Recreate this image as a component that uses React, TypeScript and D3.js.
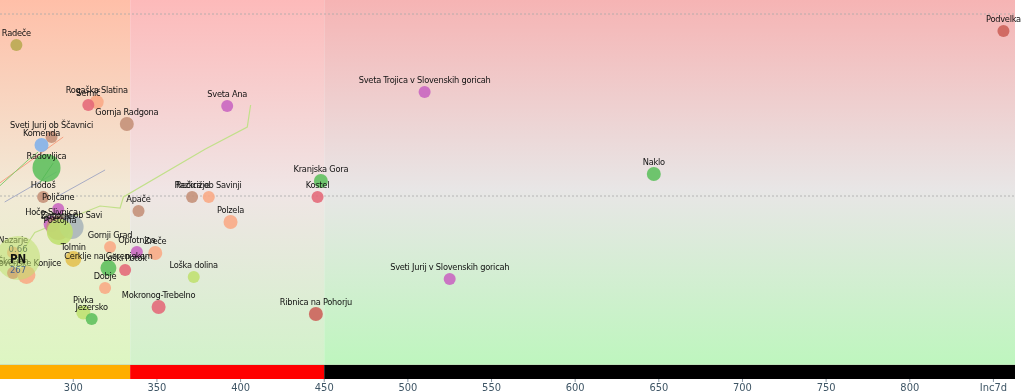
import * as d3 from 'd3';

// municipalities: 7-day incidence (x) vs weekly ratio (y)
const names = [
  'Radeče', 'Podvelka', 'Sveta Trojica v Slovenskih goricah', 'Sveta Ana', 'Rogaška Slatina',
  'Semič', 'Gornja Radgona', 'Sveti Jurij ob Ščavnici', 'Komenda', 'Radovljica',
  'Hodoš', 'Poljčane', 'Hoče-Slivnica', 'Ljutomer', 'Zagorje ob Savi', 'Postojna',
  'Tolmin', 'Gornji Grad', 'Oplotnica', 'Zreče', 'Cerklje na Gorenjskem', 'Loški Potok',
  'Dobje', 'Pivka', 'Jezersko', 'Mokronog-Trebelno', 'Loška dolina', 'Polzela', 'Apače',
  'Razkrižje', 'Rečica ob Savinji', 'Kranjska Gora', 'Kostel', 'Naklo',
  'Sveti Jurij v Slovenskih goricah', 'Ribnica na Pohorju', 'Nazarje', 'Škocjan', 'Slovenske Konjice',
];
const inc7d = [
  266, 856, 510, 392, 314,
  309, 332, 287, 281, 284,
  282, 291, 287, 291, 299, 292,
  300, 322, 338, 349, 321, 331,
  319, 306, 311, 351, 372, 394, 339,
  371, 381, 448, 446, 647,
  525, 445, 264, 264, 272,
];
const ratio = [
  1.83, 1.907, 1.571, 1.495, 1.516,
  1.5, 1.396, 1.324, 1.28, 1.154,
  0.995, 0.929, 0.846, 0.824, 0.83, 0.802,
  0.654, 0.72, 0.692, 0.687, 0.604, 0.593,
  0.495, 0.36, 0.324, 0.39, 0.555, 0.857, 0.918,
  0.995, 0.995, 1.082, 0.995, 1.121,
  0.544, 0.352, 0.69, 0.577, 0.566,
];
const population = [
  1500, 1500, 1500, 1500, 2650,
  1500, 2650, 1500, 2650, 20000,
  1500, 1500, 4100, 13400, 13400, 16500,
  4100, 1500, 1500, 2650, 4100, 1500,
  1500, 2650, 1500, 2650, 1500, 2650, 1500,
  1500, 1500, 2650, 1500, 2650,
  1500, 2650, 1500, 1500, 5950,
];
const region = [
  'Posavska', 'Koroška', 'Podravska', 'Podravska', 'Savinjska',
  'JV Slovenija', 'Pomurska', 'Pomurska', 'Osrednjeslovenska', 'Gorenjska',
  'Pomurska', 'Podravska', 'Podravska', 'Pomurska', 'Zasavska', 'Primorsko-notranjska',
  'Goriška', 'Savinjska', 'Podravska', 'Savinjska', 'Gorenjska', 'JV Slovenija',
  'Savinjska', 'Primorsko-notranjska', 'Gorenjska', 'JV Slovenija', 'Primorsko-notranjska', 'Savinjska', 'Pomurska',
  'Pomurska', 'Savinjska', 'Gorenjska', 'JV Slovenija', 'Gorenjska',
  'Podravska', 'Koroška', 'Savinjska', 'JV Slovenija', 'Savinjska',
];

const regionNames = ['Pomurska', 'Podravska', 'Koroška', 'Savinjska', 'Zasavska', 'Posavska',
  'JV Slovenija', 'Osrednjeslovenska', 'Gorenjska', 'Primorsko-notranjska', 'Goriška'];
const regionColors = ['#c49078', '#c864c0', '#cc6058', '#f9a884', '#a8b4b8', '#b8a850',
  '#e46878', '#7fb0ea', '#5cbf5c', '#bfe070', '#e2c050'];

// highlighted region aggregate
const focusName = 'PN';
const focusInc = 267;
const focusRatio = 0.66;
const focusPop = 59700;

// history trails [inc7d, ratio]
const trailPN: [number, number][] = [[267, 0.66], [277, 0.8], [301, 0.89], [316, 0.945], [328, 0.934], [330, 0.995], [379, 1.258], [404, 1.379], [406, 1.5]];
const trailSavinjska: [number, number][] = [[256, 1.071], [294, 1.324]];
const trailGorenjska: [number, number][] = [[256, 1.055], [273, 1.198], [279, 1.242]];
const trailZasavska1: [number, number][] = [[259, 0.967], [290, 1.132]];
const trailZasavska2: [number, number][] = [[290, 0.995], [319, 1.143]];
const trailRadovljica: [number, number][] = [[280, 1.071], [288, 1.181]];

// threshold colour bands on incidence axis
const bandEdges = [256.2, 334, 450, 862.9];
const bandColors = ['#ffae00', '#ff0000', '#000000'];
const xTicks = [300, 350, 400, 450, 500, 550, 600, 650, 700, 750, 800, 850];
const gridRatios = [1, 2];

const W = 1024;
const H = 392;
const PLOT_R = 1015;
const PLOT_B = 365;
const FONT = "'DejaVu Sans Condensed', 'DejaVu Sans', sans-serif";

// background gradient stops per band (top, middle, bottom)
const bgStops = [
  ['#ffbfa8', '#f2e9d6', '#ddf6c2'],
  ['#fdbaba', '#f0e5e5', '#d2f2ca'],
  ['#f6b4b4', '#e8e6e6', '#bef6be'],
];

export default function App() {
  const x = d3.scaleLinear().domain([256.2, 862.9]).range([0, PLOT_R]);
  const y = d3.scaleLinear().domain([0, 2]).range([378, 14]);
  const r = d3.scaleSqrt().domain([0, 20000]).range([3, 14]);
  const color = d3.scaleOrdinal<string, string>().domain(regionNames).range(regionColors);
  const line = d3.line<[number, number]>().x(d => x(d[0])).y(d => y(d[1]));

  const trails: { pts: [number, number][]; c: string; w: number }[] = [
    { pts: trailPN, c: '#c2e08a', w: 1.2 },
    { pts: trailSavinjska, c: '#f6a080', w: 1 },
    { pts: trailGorenjska, c: '#86cc70', w: 1 },
    { pts: trailZasavska1, c: '#a8acc4', w: 1 },
    { pts: trailZasavska2, c: '#a8acc4', w: 1 },
    { pts: trailRadovljica, c: '#3e9a3e', w: 1 },
  ];

  return (
    <div style={{ position: 'fixed', left: 0, top: 0 }}>
      <svg width={W} height={H} style={{ display: 'block', fontFamily: FONT }}>
        <defs>
          {bgStops.map((s, i) => (
            <linearGradient key={i} id={`bg${i}`} x1="0" y1="0" x2="0" y2="1">
              <stop offset="0%" stopColor={s[0]} />
              <stop offset="52%" stopColor={s[1]} />
              <stop offset="100%" stopColor={s[2]} />
            </linearGradient>
          ))}
          <clipPath id="plot"><rect x={0} y={0} width={PLOT_R} height={PLOT_B} /></clipPath>
        </defs>
        {bgStops.map((_, i) => (
          <rect key={i} x={x(bandEdges[i])} y={0} width={x(bandEdges[i + 1]) - x(bandEdges[i])}
            height={PLOT_B} fill={`url(#bg${i})`} />
        ))}
        {gridRatios.map(g => (
          <line key={g} x1={0} x2={PLOT_R} y1={y(g)} y2={y(g)} stroke="#a8a8a8" strokeWidth={0.8} strokeDasharray="2,2" />
        ))}
        <g clipPath="url(#plot)">
          {trails.map((t, i) => (
            <path key={i} d={line(t.pts) ?? ''} fill="none" stroke={t.c} strokeWidth={t.w} />
          ))}
          {names.map((n, i) => (
            <circle key={n} cx={x(inc7d[i])} cy={y(ratio[i])} r={r(population[i])}
              fill={color(region[i])} fillOpacity={0.88} />
          ))}
        </g>
        {names.map((n, i) => (
          <text key={n} x={x(inc7d[i])} y={y(ratio[i]) - 9} textAnchor="middle"
            fontSize={9.2} letterSpacing={-0.25} fill="#111">{n}</text>
        ))}
        <g clipPath="url(#plot)">
          <circle cx={x(focusInc)} cy={y(focusRatio)} r={r(focusPop)} fill={color('Primorsko-notranjska')} fillOpacity={0.55} />
          <text x={x(focusInc)} y={y(focusRatio) - 6} textAnchor="middle" fontSize={9.5} fill="#6f8a5a">{focusRatio.toFixed(2)}</text>
          <text x={x(focusInc)} y={y(focusRatio) + 5} textAnchor="middle" fontSize={11.5} fontWeight="bold" fill="#111">{focusName}</text>
          <text x={x(focusInc)} y={y(focusRatio) + 15} textAnchor="middle" fontSize={9.5} fill="#47628a">{focusInc}</text>
        </g>
        <line x1={0} x2={PLOT_R} y1={PLOT_B} y2={PLOT_B} stroke="#b9cdb0" strokeWidth={1} />
        {bandColors.map((c, i) => (
          <rect key={c} x={x(bandEdges[i])} y={PLOT_B} width={x(bandEdges[i + 1]) - x(bandEdges[i])} height={14} fill={c} />
        ))}
        {xTicks.map((t, i) => (
          <g key={t} transform={`translate(${x(t)},0)`}>
            <line y1={379} y2={382} stroke="#8a98a4" />
            <text y={391} textAnchor="middle" fontSize={11} fill="#3f5666">
              {i === xTicks.length - 1 ? 'Inc7d' : t}
            </text>
          </g>
        ))}
      </svg>
    </div>
  );
}
